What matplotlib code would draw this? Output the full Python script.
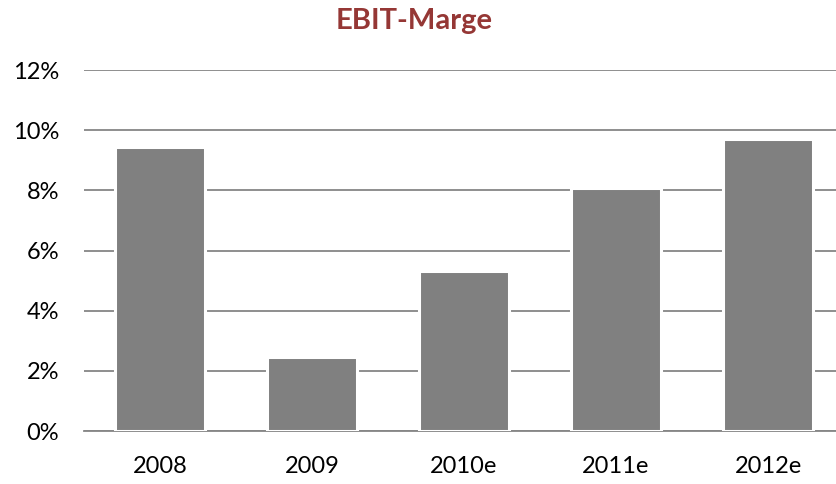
import matplotlib
matplotlib.use("Agg")
import matplotlib.pyplot as plt
from matplotlib.ticker import FuncFormatter
import matplotlib.patheffects as pe

categories = ["2008", "2009", "2010e", "2011e", "2012e"]
values = [9.45, 2.45, 5.33, 8.07, 9.72]
yticks = [0, 2, 4, 6, 8, 10, 12]

plt.rcParams['font.family'] = ['Lato', 'DejaVu Sans']

fig = plt.figure(figsize=(8.36, 4.84), dpi=100)
ax = fig.add_axes([0.1005, 0.1095, 0.8995, 0.7455])

x = list(range(len(categories)))
bars = ax.bar(x, values, width=0.59, color="#808080", edgecolor="white", linewidth=2.2, zorder=3)
for b in bars:
    b.set_path_effects([pe.SimplePatchShadow(offset=(0, -1), shadow_rgbFace="#d0d0d0", alpha=0.6), pe.Normal()])

ax.set_xlim(-0.5, 4.447)
ax.set_ylim(0, 12)
ax.set_yticks(yticks)
ax.yaxis.set_major_formatter(FuncFormatter(lambda v, p: f"{int(v)}%"))
ax.set_xticks(x)
ax.set_xticklabels(categories)
ax.grid(axis="y", color="#868686", linewidth=1.3, zorder=0)
ax.set_axisbelow(True)
for s in ["top", "right", "left"]:
    ax.spines[s].set_visible(False)
ax.spines["bottom"].set_color("#868686")
ax.spines["bottom"].set_linewidth(1.3)
ax.tick_params(axis="both", length=0, labelsize=17, colors="black")
ax.tick_params(axis="y", pad=18)
ax.tick_params(axis="x", pad=18)

fig.suptitle("EBIT-Marge", x=0.495, y=0.983, fontsize=21, fontweight="bold", color="#953735")

fig.savefig("out.png", dpi=100)
